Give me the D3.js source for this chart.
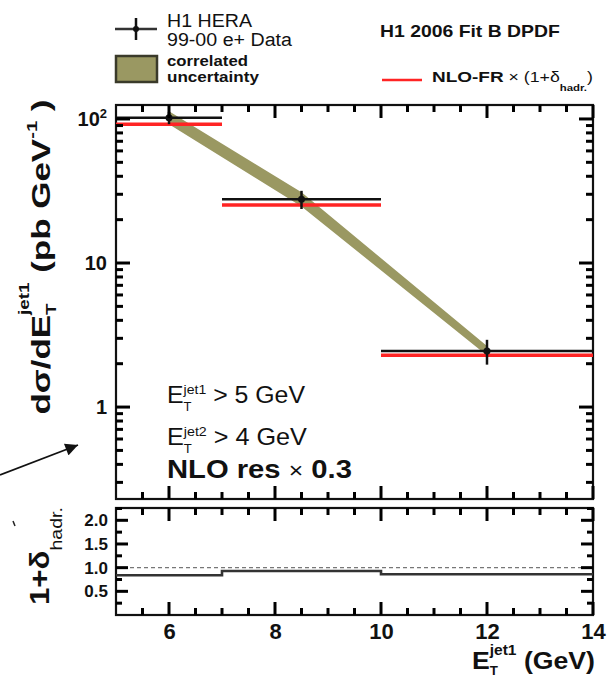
<!DOCTYPE html>
<html>
<head>
<meta charset="utf-8">
<script src="https://cdn.jsdelivr.net/npm/d3@7"></script>
<style>
body { margin: 0; background: #fff; }
svg text { font-family: "Liberation Sans", Arial, Helvetica, sans-serif; fill: #111; white-space: pre; }
</style>
</head>
<body>
<div id="chart"></div>
<script>
// E_T^jet1 bins (GeV)
var binLow = [5, 7, 10];
var binHigh = [7, 10, 14];
var binCentre = [6, 8.5, 12];

// H1 99-00 e+ data, d sigma / d E_T (pb/GeV)
var dataValues = [102, 27.7, 2.45];
var dataErrors = [10, 4, 0.48];

// NLO-FR x (1 + delta_hadr)
var nloValues = [93.4, 25.7, 2.33];

// correlated uncertainty band
var bandLow = [92, 24.7, 2.28];
var bandHigh = [113, 31, 2.65];

// hadronisation correction 1 + delta_hadr
var hadrValues = [0.84, 0.93, 0.86];

// tick labels
var xLabelTicks = [6, 8, 10, 12, 14];
var yMainTicks = [1, 10, 100];
var yRatioTicks = [0.5, 1, 1.5, 2];

var W = 607, H = 678;
var svg = d3.select("#chart").append("svg")
    .attr("width", W)
    .attr("height", H);

// panels
var left = 116, right = 593;
var mainTop = 105, mainBottom = 499;
var ratioTop = 508, ratioBottom = 615;

var x = d3.scaleLinear().domain([5, 14]).range([left, right]);
var y = d3.scaleLog().domain([0.23, 125]).range([mainBottom, mainTop]);
var yr = d3.scaleLinear().domain([0, 2.26]).range([ratioBottom, ratioTop]);

// tick value lists
var xMinor = d3.range(5.5, 14, 0.5).filter(function(d) { return xLabelTicks.indexOf(d) < 0; });
var yMinor = [];
[0.1, 1, 10, 100].forEach(function(dec) {
    for (var k = 2; k <= 9; k++) {
        var v = k * dec;
        if (v > 0.23 && v < 125) yMinor.push(v);
    }
});
var yrMinor = [0.25, 0.75, 1.25, 1.75, 2.25];

// tick marks pointing into the frame
function tickMarks(scale, values, size, side, pos) {
    var horiz = side === "bottom" || side === "top";
    var dir = (side === "bottom" || side === "right") ? -1 : 1;
    svg.append("g").selectAll("line")
        .data(values)
        .enter().append("line")
        .attr("x1", function(d) { return horiz ? scale(d) : pos; })
        .attr("x2", function(d) { return horiz ? scale(d) : pos + dir * size; })
        .attr("y1", function(d) { return horiz ? pos : scale(d); })
        .attr("y2", function(d) { return horiz ? pos + dir * size : scale(d); })
        .style("stroke", "#000")
        .style("stroke-width", "3px");
}

// text with sub/superscripts, optionally stretched to a width
function richText(parent, px, py, parts, opts) {
    opts = opts || {};
    var g = parent.append("g");
    var inner = g.append("g");
    var cx = 0, prevStart = 0;
    parts.forEach(function(p) {
        var start = p.stack ? prevStart : cx;
        var t = inner.append("text")
            .attr("x", start)
            .attr("y", p.dy || 0)
            .attr("font-size", p.size)
            .attr("font-weight", p.weight || "bold")
            .text(p.t);
        var w = t.node().getComputedTextLength();
        prevStart = start;
        cx = Math.max(cx, start + w);
    });
    var sx = opts.width ? opts.width / cx : 1;
    var shift = opts.anchor === "end" ? -cx : (opts.anchor === "middle" ? -cx / 2 : 0);
    inner.attr("transform", "scale(" + sx + ",1) translate(" + shift + ",0)");
    g.attr("transform", "translate(" + px + "," + py + ")" + (opts.rotate ? " rotate(" + opts.rotate + ")" : ""));
    return g;
}

// ---------- frames first, ticks and data on top ----------
svg.append("rect")
    .attr("x", left).attr("y", mainTop)
    .attr("width", right - left).attr("height", mainBottom - mainTop)
    .attr("fill", "#fff").attr("stroke", "#111").attr("stroke-width", 2.2);
svg.append("rect")
    .attr("x", left).attr("y", ratioTop)
    .attr("width", right - left).attr("height", ratioBottom - ratioTop)
    .attr("fill", "#fff").attr("stroke", "#111").attr("stroke-width", 2.2);

// ---------- main panel ----------
var idx = d3.range(binCentre.length);

var band = d3.area()
    .x(function(i) { return x(binCentre[i]); })
    .y0(function(i) { return y(bandLow[i]); })
    .y1(function(i) { return y(bandHigh[i]); });

svg.append("path")
    .datum(idx)
    .attr("d", band)
    .attr("fill", "#9a9862");

svg.selectAll(".nlo")
    .data(idx)
    .enter().append("line")
    .attr("class", "nlo")
    .attr("x1", function(i) { return x(binLow[i]); })
    .attr("x2", function(i) { return x(binHigh[i]); })
    .attr("y1", function(i) { return y(nloValues[i]) + 1; })
    .attr("y2", function(i) { return y(nloValues[i]) + 1; })
    .attr("stroke", "#ff2424")
    .attr("stroke-width", 3.5);

svg.selectAll(".dbin")
    .data(idx)
    .enter().append("line")
    .attr("class", "dbin")
    .attr("x1", function(i) { return x(binLow[i]); })
    .attr("x2", function(i) { return x(binHigh[i]); })
    .attr("y1", function(i) { return y(dataValues[i]); })
    .attr("y2", function(i) { return y(dataValues[i]); })
    .attr("stroke", "#111")
    .attr("stroke-width", 2.5);

svg.selectAll(".derr")
    .data(idx)
    .enter().append("line")
    .attr("class", "derr")
    .attr("x1", function(i) { return x(binCentre[i]); })
    .attr("x2", function(i) { return x(binCentre[i]); })
    .attr("y1", function(i) { return y(dataValues[i] + dataErrors[i]); })
    .attr("y2", function(i) { return y(dataValues[i] - dataErrors[i]); })
    .attr("stroke", "#111")
    .attr("stroke-width", 2.5);

svg.selectAll(".dpt")
    .data(idx)
    .enter().append("circle")
    .attr("class", "dpt")
    .attr("cx", function(i) { return x(binCentre[i]); })
    .attr("cy", function(i) { return y(dataValues[i]); })
    .attr("r", 3.5)
    .attr("fill", "#111");

// ticks of main panel
tickMarks(x, xLabelTicks, 13, "bottom", mainBottom);
tickMarks(x, xMinor, 7, "bottom", mainBottom);
tickMarks(x, xLabelTicks, 13, "top", mainTop);
tickMarks(x, xMinor, 7, "top", mainTop);
tickMarks(y, yMainTicks, 14, "left", left);
tickMarks(y, yMinor, 7, "left", left);
tickMarks(y, yMainTicks, 14, "right", right);
tickMarks(y, yMinor, 7, "right", right);

// y labels of main panel
var yLab = svg.append("g")
    .attr("transform", "translate(" + left + ",0)")
    .call(d3.axisLeft(y).tickValues(yMainTicks).tickSize(0).tickPadding(9)
        .tickFormat(function(d) { return d === 100 ? "10" : d; }));
yLab.select(".domain").remove();
yLab.selectAll("text")
    .attr("font-size", 20)
    .attr("font-weight", "bold")
    .each(function(d) {
        if (d === 100) {
            d3.select(this).append("tspan").attr("dy", -8).attr("font-size", 13).text("2");
        }
    });

// ---------- ratio panel ----------
svg.append("line")
    .attr("x1", left).attr("x2", right)
    .attr("y1", yr(1)).attr("y2", yr(1))
    .attr("stroke", "#777")
    .attr("stroke-width", 1.4)
    .attr("stroke-dasharray", "4,3");

var stepPts = idx.map(function(i) { return [binLow[i], hadrValues[i]]; });
stepPts.push([binHigh[binHigh.length - 1], hadrValues[hadrValues.length - 1]]);

svg.append("path")
    .datum(stepPts)
    .attr("d", d3.line()
        .x(function(d) { return x(d[0]); })
        .y(function(d) { return yr(d[1]); })
        .curve(d3.curveStepAfter))
    .attr("fill", "none")
    .attr("stroke", "#333")
    .attr("stroke-width", 2.6);

tickMarks(x, xLabelTicks, 13, "bottom", ratioBottom);
tickMarks(x, xMinor, 7, "bottom", ratioBottom);
tickMarks(x, xLabelTicks, 13, "top", ratioTop);
tickMarks(x, xMinor, 7, "top", ratioTop);
tickMarks(yr, yRatioTicks, 12, "left", left);
tickMarks(yr, yrMinor, 6, "left", left);
tickMarks(yr, yRatioTicks, 12, "right", right);
tickMarks(yr, yrMinor, 6, "right", right);

var yrLab = svg.append("g")
    .attr("transform", "translate(" + left + ",0)")
    .call(d3.axisLeft(yr).tickValues(yRatioTicks).tickSize(0).tickPadding(8));
yrLab.select(".domain").remove();
yrLab.selectAll("text").attr("font-size", 17).attr("font-weight", "bold");

var xLab = svg.append("g")
    .attr("transform", "translate(0," + ratioBottom + ")")
    .call(d3.axisBottom(x).tickValues(xLabelTicks).tickSize(0).tickPadding(8));
xLab.select(".domain").remove();
xLab.selectAll("text").attr("font-size", 22).attr("font-weight", "bold");

// ---------- axis titles ----------
richText(svg, 50, 257, [
    { t: "d\u03c3/dE", size: 26 },
    { t: "T", size: 14, dy: 6 },
    { t: "jet1", size: 14, dy: -21, stack: true },
    { t: " (pb GeV", size: 26 },
    { t: "-1", size: 15, dy: -13 },
    { t: " )", size: 26 }
], { anchor: "middle", rotate: -90, width: 315 });

richText(svg, 49, 556, [
    { t: "1+\u03b4", size: 27 },
    { t: "hadr.", size: 17, dy: 13, weight: "normal" }
], { anchor: "middle", rotate: -90, width: 98 });

richText(svg, 595, 669, [
    { t: "E", size: 24 },
    { t: "T", size: 12, dy: 6 },
    { t: "jet1", size: 14, dy: -14, stack: true },
    { t: " (GeV)", size: 24 }
], { anchor: "end", width: 123 });

// ---------- annotations ----------
richText(svg, 167, 403, [
    { t: "E", size: 23, weight: "normal" },
    { t: "T", size: 12, dy: 8, weight: "normal" },
    { t: "jet1", size: 13, dy: -9, stack: true, weight: "normal" },
    { t: " > 5 GeV", size: 23, weight: "normal" }
], { width: 138 });

richText(svg, 167, 445, [
    { t: "E", size: 23, weight: "normal" },
    { t: "T", size: 12, dy: 8, weight: "normal" },
    { t: "jet2", size: 13, dy: -9, stack: true, weight: "normal" },
    { t: " > 4 GeV", size: 23, weight: "normal" }
], { width: 140 });

richText(svg, 167, 478, [
    { t: "NLO res ", size: 26 },
    { t: "\u00d7", size: 22, weight: "normal" },
    { t: " 0.3", size: 26 }
], { width: 185 });

// ---------- legends ----------
var leg = svg.append("g");
leg.append("line").attr("x1", 115).attr("x2", 157).attr("y1", 29).attr("y2", 29)
    .attr("stroke", "#333").attr("stroke-width", 2.5);
leg.append("line").attr("x1", 136).attr("x2", 136).attr("y1", 18).attr("y2", 40)
    .attr("stroke", "#111").attr("stroke-width", 2.5);
leg.append("circle").attr("cx", 136).attr("cy", 29).attr("r", 3).attr("fill", "#111");
leg.append("rect").attr("x", 116).attr("y", 56).attr("width", 41).attr("height", 26)
    .attr("fill", "#9a9862").attr("stroke", "#3a3a2a").attr("stroke-width", 2.5);

richText(svg, 167, 27, [{ t: "H1 HERA", size: 18, weight: "normal" }], { width: 85 });
richText(svg, 167, 46, [{ t: "99-00 e+ Data", size: 18, weight: "normal" }], { width: 125 });
richText(svg, 167, 66, [{ t: "correlated", size: 14 }], { width: 81 });
richText(svg, 167, 82, [{ t: "uncertainty", size: 14 }], { width: 92 });

richText(svg, 380, 37, [{ t: "H1 2006 Fit B DPDF", size: 17 }], { width: 180 });
leg.append("line").attr("x1", 382).attr("x2", 422).attr("y1", 80).attr("y2", 80)
    .attr("stroke", "#ff2424").attr("stroke-width", 2.5);
richText(svg, 432, 82, [
    { t: "NLO-FR", size: 15 },
    { t: " \u00d7 (1+\u03b4", size: 14, weight: "normal" },
    { t: "hadr.", size: 9, dy: 9 },
    { t: ")", size: 14, weight: "normal" }
], { width: 161 });

// ---------- arrow ----------
var defs = svg.append("defs");
defs.append("marker")
    .attr("id", "arrow")
    .attr("viewBox", "0 0 10 10")
    .attr("refX", 10).attr("refY", 5)
    .attr("markerWidth", 8).attr("markerHeight", 7)
    .attr("markerUnits", "strokeWidth")
    .attr("orient", "auto")
    .append("path").attr("d", "M0,0 L10,5 L0,10 z").attr("fill", "#111");
svg.append("line")
    .attr("x1", 0).attr("y1", 475).attr("x2", 78).attr("y2", 445)
    .attr("stroke", "#111").attr("stroke-width", 1.8)
    .attr("marker-end", "url(#arrow)");
svg.append("line")
    .attr("x1", 13).attr("y1", 521).attr("x2", 15).attr("y2", 526)
    .attr("stroke", "#222").attr("stroke-width", 1.5);
</script>
</body>
</html>
